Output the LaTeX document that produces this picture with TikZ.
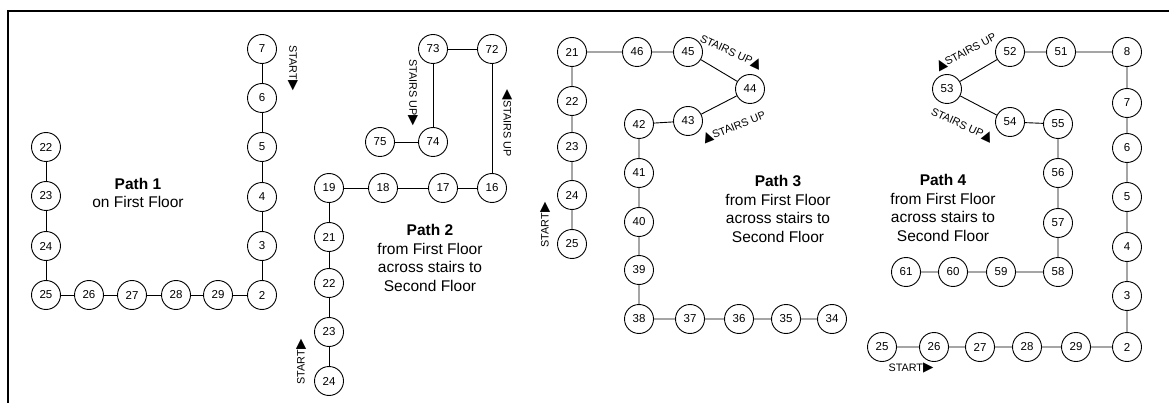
\documentclass[tikz,border=0pt]{standalone}
\usepackage{fontspec}
\setmainfont{Liberation Sans}
\newfontfamily\symfont{DejaVu Sans}
\newcommand{\trig}[1]{{\symfont\fontsize{13.5}{12}\selectfont#1}}
\begin{document}
\begin{tikzpicture}[x=1pt,y=-1pt,
  stop/.style={circle,draw,line width=0.9pt,minimum size=29pt,inner sep=0pt,font=\fontsize{11.5}{13}\selectfont},
  link/.style={line width=0.9pt},
  caption/.style={align=center,inner sep=0pt,font=\fontsize{15.5}{18.5}\selectfont},
  tag/.style={inner sep=0pt,font=\fontsize{10.8}{12}\selectfont}
]
\useasboundingbox (0,0) rectangle (1169,403);
\begin{scope}
\clip (0,0) rectangle (1169,403);
\draw[line width=2pt] (8,420) -- (8,11) -- (1180,11);
\end{scope}

% Path 1
\foreach \n/\x/\y in {7/262/49,6/262/98,5/262/147,4/262/197,3/262/246,2/262/295,29/218/295,28/176/295,27/132/295,26/89/295,25/46/295,24/46/246,23/46/196,22/46/147}
  \node[stop] (a\n) at (\x,\y) {\n};
\draw[link] (a7) -- (a6) -- (a5) -- (a4) -- (a3) -- (a2) -- (a29) -- (a28) -- (a27) -- (a26) -- (a25) -- (a24) -- (a23) -- (a22);
\node[caption] (p1) at (138,193) {\textbf{Path 1}\\on First Floor};
\node[tag,rotate=-90] (s1) at (293,68) {START\trig{▶}};

% Path 2
\foreach \n/\x/\y in {73/433/49,72/492/49,74/433/142,75/380/142,19/329/188,18/383/188,17/443/188,16/492/188,21/329/237,22/329/283,23/329/332,24/329/381}
  \node[stop] (b\n) at (\x,\y) {\n};
\draw[link] (b24) -- (b23) -- (b22) -- (b21) -- (b19) -- (b18) -- (b17) -- (b16) -- (b72) -- (b73) -- (b74) -- (b75);
\node[caption] (p2) at (430,258) {\textbf{Path 2}\\from First Floor\\across stairs to\\Second Floor};
\node[tag,rotate=90] (s2) at (301,362) {START\trig{▶}};
\node[tag,rotate=-90] (u2a) at (413,93) {STAIRS UP\trig{▶}};
\node[tag,rotate=-90] (u2b) at (507,123) {\trig{◀}STAIRS UP};

% Path 3
\foreach \n/\x/\y in {21/572/52,46/637/52,45/688/52,44/750/89,43/688/121,42/639/124,41/639/173,40/639/222,39/639/270,38/639/319,37/690/319,36/739/319,35/786/319,34/832/319,22/572/101,23/572/147,24/572/195,25/572/244}
  \node[stop] (c\n) at (\x,\y) {\n};
\draw[link] (c25) -- (c24) -- (c23) -- (c22) -- (c21) -- (c46) -- (c45) -- (c44) -- (c43) -- (c42) -- (c41) -- (c40) -- (c39) -- (c38) -- (c37) -- (c36) -- (c35) -- (c34);
\node[caption] (p3) at (778,209) {\textbf{Path 3}\\from First Floor\\across stairs to\\Second Floor};
\node[tag,rotate=90] (s3) at (545,225) {START\trig{▶}};
\node[tag,rotate=-25] (u3a) at (731,52) {STAIRS UP\trig{▲}};
\node[tag,rotate=22] (u3b) at (734,127) {\trig{▲}STAIRS UP};

% Path 4
\foreach \n/\x/\y in {52/1010/52,51/1061/52,8/1127/52,53/947/89,54/1010/122,55/1058/124,56/1058/173,57/1058/223,58/1058/272,59/1001/272,60/953/272,61/906/272,7/1127/103,6/1127/148,5/1127/197,4/1127/247,3/1127/296,2/1127/347,29/1076/347,28/1027/347,27/980/347,26/934/347,25/882/347}
  \node[stop] (d\n) at (\x,\y) {\n};
\draw[link] (d25) -- (d26) -- (d27) -- (d28) -- (d29) -- (d2) -- (d3) -- (d4) -- (d5) -- (d6) -- (d7) -- (d8) -- (d51) -- (d52) -- (d53) -- (d54) -- (d55) -- (d56) -- (d57) -- (d58) -- (d59) -- (d60) -- (d61);
\node[caption] (p4) at (943,208) {\textbf{Path 4}\\from First Floor\\across stairs to\\Second Floor};
\node[tag] (s4) at (911,368) {START\trig{▶}};
\node[tag,rotate=28] (u4a) at (966,52) {\trig{▲}STAIRS UP};
\node[tag,rotate=-25] (u4b) at (962,125) {STAIRS UP\trig{▲}};
\end{tikzpicture}
\end{document}
